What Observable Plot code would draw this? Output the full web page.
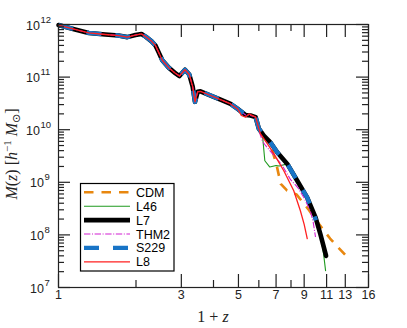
<!DOCTYPE html>
<html><head><meta charset="utf-8">
<script src="https://cdn.jsdelivr.net/npm/d3@7"></script>
<script src="https://cdn.jsdelivr.net/npm/@observablehq/plot@0.6"></script>
<style>body{margin:0;background:#fff} #wrap{position:relative;width:407px;height:328px} #wrap svg{display:block} #over{position:absolute;left:0;top:0;pointer-events:none}</style>
</head><body><div id="wrap"></div>
<script>
// Shared early mass-accretion history (x = 1+z, log10 M)
const trackX    = [1.00,1.13,1.31,1.52,1.71,1.85,1.99,2.10,2.18,2.30,2.38,2.45,2.53,2.68,2.85,2.95,3.10,3.22,3.32,3.39,3.47,3.56,3.90,4.26,4.66,4.95,5.17,5.33,5.57,5.83,6.00];
const trackLogM = [11.99,11.92,11.84,11.81,11.79,11.76,11.80,11.82,11.77,11.68,11.60,11.47,11.32,11.18,11.07,11.02,11.14,11.05,10.82,10.53,10.72,10.73,10.65,10.57,10.49,10.40,10.33,10.28,10.27,10.24,10.02];

// Late-time tails of each run
const cdmX  = [6.27,6.6,7.0,7.3,7.7,8.4,9.3,10.3,11.35,13.1];
const cdmLogM = [9.89,9.77,9.37,8.97,8.85,8.77,8.50,8.20,7.93,7.60];
const l46X  = [6.19,6.33,6.62,7.0,7.2,7.74,8.46,9.25,9.97,10.41,10.7,10.9];
const l46LogM = [9.93,9.41,9.29,9.32,9.31,9.35,9.03,8.71,8.33,8.01,7.65,7.32];
const l7X   = [6.27,6.65,7.07,7.74,8.46,9.25,9.97,10.41,10.95];
const l7LogM = [9.89,9.76,9.57,9.35,9.03,8.71,8.33,8.01,7.60];
const thm2X = [6.0,6.2,6.37,6.9,7.4,7.97,8.5,9.0,9.5,9.75,9.96];
const thm2LogM = [9.98,9.78,9.70,9.50,9.32,9.05,8.90,8.70,8.46,8.25,7.96];
const s229X = [6.27,6.65,7.07,7.74,8.46,9.25,10.0];
const s229LogM = [9.89,9.76,9.57,9.35,9.03,8.71,8.28];
const l8X   = [5.02,5.13,5.33,5.49,5.83,6.0,6.09,6.5,6.87,7.5,8.2,8.7,9.0,9.25];
const l8LogM = [10.36,10.27,10.24,10.30,10.24,10.02,9.92,9.72,9.54,9.22,8.84,8.46,8.2,7.93];

const names  = ["CDM","L46","L7","THM2","S229","L8"];
const colors = ["#e8870f","#1f9a1f","#000000","#d21fd2","#1874c6","#ff2020"];

const xMajor = [1,3,5,7,9,11,13,16];
const xMinor = [2,4,6,8];
const yExponents = [7,8,9,10,11,12];
const yMinorMult = [2,3,4,5,6,7,8,9];

function build(tx, ty) {
  const head = trackX.map((x,i)=>({x, logM: trackLogM[i]})).filter(d => d.x < tx[0]);
  return head.concat(tx.map((x,i)=>({x, logM: ty[i]})));
}
const runs = [
  build(cdmX, cdmLogM), build(l46X, l46LogM), build(l7X, l7LogM),
  build(thm2X, thm2LogM), build(s229X, s229LogM), build(l8X, l8LogM)
];
const styles = [
  {strokeWidth: 2.6, strokeDasharray: "9.5,8", strokeLinecap: "butt"},
  {strokeWidth: 1.1},
  {strokeWidth: 4.6},
  {strokeWidth: 1.1, strokeDasharray: "6.4,1.6,1,1.6", strokeLinecap: "butt"},
  {strokeWidth: 4.4, strokeDasharray: "15,14", strokeLinecap: "butt"},
  {strokeWidth: 1.3}
];

const W = 407, H = 328, ML = 58, MR = 39, MT = 24, MB = 41;
const FW = W - ML - MR, FH = H - MT - MB;
const yDom = [1e7, 1e12], xDom = [1, 16];

const yMajor = yExponents.map(e => 10 ** e);
const yMinor = yExponents.slice(0, -1).flatMap(e => yMinorMult.map(m => m * 10 ** e));
const ink = "#222";
const tk = {stroke: ink, strokeWidth: 1.2};
// tick lengths expressed as scale factors on the log axes (13/7 px vertical, 12/6 px horizontal)
const pxPerDecade = FH / 5, pxPerLn = FW / Math.log(16);
const fy = px => 10 ** (px / pxPerDecade);
const fx = px => Math.exp(px / pxPerLn);

const marks = [
  ...runs.map((data, i) => Plot.line(data, {
    x: "x", y: d => 10 ** d.logM, stroke: colors[i], strokeLinejoin: "round", ...styles[i]
  })),
  // inward ticks bottom / top
  Plot.ruleX(xMajor, {x: d => d, y1: yDom[0], y2: yDom[0] * fy(13), ...tk}),
  Plot.ruleX(xMinor, {x: d => d, y1: yDom[0], y2: yDom[0] * fy(7), ...tk}),
  Plot.ruleX(xMajor, {x: d => d, y1: yDom[1] / fy(13), y2: yDom[1], ...tk}),
  Plot.ruleX(xMinor, {x: d => d, y1: yDom[1] / fy(7), y2: yDom[1], ...tk}),
  // inward ticks left / right
  Plot.ruleY(yMajor, {y: d => d, x1: xDom[0], x2: xDom[0] * fx(12), ...tk}),
  Plot.ruleY(yMinor, {y: d => d, x1: xDom[0], x2: xDom[0] * fx(6), ...tk}),
  Plot.ruleY(yMajor, {y: d => d, x1: xDom[1] / fx(12), x2: xDom[1], ...tk}),
  Plot.ruleY(yMinor, {y: d => d, x1: xDom[1] / fx(6), x2: xDom[1], ...tk}),
  Plot.frame({stroke: ink, strokeWidth: 1.2}),
  Plot.text(xMajor, {x: d => d, text: d => String(d), frameAnchor: "bottom", dy: 11, fontSize: 12.5, fill: ink}),
  Plot.text(yExponents.filter(e => e >= 10), {y: e => 10 ** e, text: () => "10", frameAnchor: "left", textAnchor: "end", dx: -18.5, dy: 1, fontSize: 12.5, fill: ink}),
  Plot.text(yExponents.filter(e => e >= 10), {y: e => 10 ** e, text: e => String(e), frameAnchor: "left", textAnchor: "start", dx: -18, dy: -5, fontSize: 9.5, fill: ink}),
  Plot.text(yExponents.filter(e => e < 10), {y: e => 10 ** e, text: () => "10", frameAnchor: "left", textAnchor: "end", dx: -14.5, dy: 1, fontSize: 12.5, fill: ink}),
  Plot.text(yExponents.filter(e => e < 10), {y: e => 10 ** e, text: e => String(e), frameAnchor: "left", textAnchor: "start", dx: -14, dy: -5, fontSize: 9.5, fill: ink})
];

const chart = Plot.plot({
  width: W, height: H,
  marginLeft: ML, marginRight: MR, marginTop: MT, marginBottom: MB,
  x: {type: "log", domain: xDom, axis: null},
  y: {type: "log", domain: yDom, axis: null},
  style: {fontFamily: "'Liberation Sans', Arial, sans-serif", background: "white"},
  marks
});
document.getElementById("wrap").append(chart);

// Overlay: axis labels and legend
const over = d3.select("#wrap").append("svg").attr("id", "over").attr("width", W).attr("height", H);
const serif = "'Liberation Serif', 'DejaVu Serif', serif";
const xl = over.append("text").attr("x", 213).attr("y", 322).attr("text-anchor", "middle")
  .attr("font-family", serif).attr("font-size", 16).attr("fill", ink);
xl.append("tspan").text("1 + ");
xl.append("tspan").attr("font-style", "italic").text("z");

const yl = over.append("text").attr("transform", "translate(17,154) rotate(-90)").attr("text-anchor", "middle")
  .attr("font-family", serif).attr("font-size", 16).attr("fill", ink);
yl.append("tspan").attr("font-style", "italic").text("M");
yl.append("tspan").text("(");
yl.append("tspan").attr("font-style", "italic").text("z");
yl.append("tspan").text(") [");
yl.append("tspan").attr("font-style", "italic").text("h");
yl.append("tspan").attr("font-size", 11).attr("dy", -6).text("−1");
yl.append("tspan").attr("dy", 6).text(" ");
yl.append("tspan").attr("font-style", "italic").text("M");
yl.append("tspan").attr("font-size", 11).attr("dy", 3).attr("font-family", "'DejaVu Sans', sans-serif").text("⊙");
yl.append("tspan").attr("dy", -3).text("]");

const lg = over.append("g");
lg.append("rect").attr("x", 80.5).attr("y", 183.5).attr("width", 93.5).attr("height", 87.5)
  .attr("fill", "white").attr("stroke", "#000").attr("stroke-width", 1.2);
names.forEach((n, i) => {
  const y = 192.3 + i * 13.9;
  const s = styles[i];
  lg.append("line").attr("x1", 84).attr("x2", 130).attr("y1", y).attr("y2", y)
    .attr("stroke", colors[i]).attr("stroke-width", s.strokeWidth)
    .attr("stroke-dasharray", s.strokeDasharray || null);
  lg.append("text").attr("x", 136).attr("y", y).attr("dy", "0.36em").attr("text-anchor", "start")
    .attr("font-family", "'Liberation Sans', Arial, sans-serif").attr("font-size", 12.5).attr("fill", "#000").text(n);
});
</script>
</body></html>
